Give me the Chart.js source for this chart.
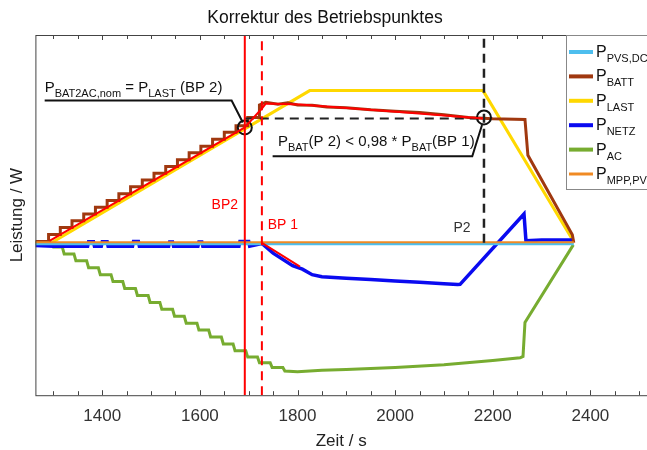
<!DOCTYPE html>
<html>
<head>
<meta charset="utf-8">
<script src="https://cdn.jsdelivr.net/npm/chart.js@4/dist/chart.umd.min.js"></script>
<style>
  body { margin: 0; background: #fff; }
  #wrap { width: 647px; height: 450px; }
</style>
</head>
<body>
<div id="wrap"><canvas id="chart" width="647" height="450"></canvas></div>
<script>
// time axis (s) and power axis (W)
const timeMin = 1263, timeMax = 2516;
const powMin = -2200, powMax = 3000;
const timeTicks = [1400, 1600, 1800, 2000, 2200, 2400];

// series as [time, power] pairs
const pvsDc = [[1263, -15], [2366, -15]];
const mppPv = [[1263, 8], [2366, 8]];
const pLast = [[1263, 0], [1296, 0], [1825, 2197], [2180, 2197], [2365, 25]];
const pBatt = [
  [1263, 20], [1290, 20], [1290, 120], [1314, 120], [1314, 220], [1338, 220], [1338, 320],
  [1362, 320], [1362, 415], [1386, 415], [1386, 515], [1410, 515], [1410, 610], [1434, 610],
  [1434, 710], [1458, 710], [1458, 810], [1482, 810], [1482, 905], [1506, 905], [1506, 1005],
  [1530, 1005], [1530, 1100], [1554, 1100], [1554, 1200], [1578, 1200], [1578, 1300],
  [1602, 1300], [1602, 1395], [1626, 1395], [1626, 1495], [1650, 1495], [1650, 1595],
  [1674, 1595], [1674, 1690], [1698, 1690], [1698, 1810], [1722, 1810], [1722, 1990],
  [1735, 2030], [1760, 2000], [1780, 2020], [1800, 1990], [1830, 1985], [1860, 1960],
  [1900, 1950], [1950, 1920], [2000, 1900], [2050, 1880], [2100, 1850], [2150, 1810],
  [2200, 1790], [2266, 1781], [2272, 1264], [2363, 115], [2366, 0]
];
const pNetz = [
  [1263, -40], [1300, -50], [1370, -50], [1372, 15], [1382, 15], [1384, -50], [1398, -50],
  [1400, 15], [1410, 15], [1412, -50], [1462, -50], [1464, 20], [1474, 20], [1476, -50],
  [1536, -50], [1538, 10], [1544, 10], [1546, -50], [1596, -50], [1598, 10], [1604, 10],
  [1606, -50], [1680, -50], [1682, 20], [1700, 20], [1702, -50], [1727, -10], [1750, -150],
  [1790, -330], [1810, -380], [1830, -460], [1850, -490], [1900, -510], [1950, -530],
  [2000, -550], [2050, -570], [2100, -590], [2128, -603], [2133, -600], [2264, 416],
  [2268, 30], [2300, 40], [2366, 40]
];
const pAc = [
  [1263, 0], [1296, 0], [1300, -60], [1318, -60], [1322, -160], [1342, -160], [1346, -260],
  [1368, -260], [1372, -360], [1392, -360], [1396, -460], [1418, -460], [1422, -560],
  [1442, -560], [1446, -660], [1468, -660], [1472, -760], [1494, -760], [1498, -860],
  [1518, -860], [1522, -960], [1544, -960], [1548, -1060], [1568, -1060], [1572, -1160],
  [1594, -1160], [1598, -1260], [1618, -1260], [1622, -1360], [1644, -1360], [1648, -1460],
  [1668, -1460], [1672, -1560], [1694, -1560], [1698, -1650], [1718, -1650], [1722, -1730],
  [1744, -1730], [1748, -1800], [1770, -1800], [1774, -1850], [1800, -1860], [1850, -1840],
  [1900, -1830], [2000, -1800], [2100, -1760], [2200, -1700], [2256, -1660], [2262, -1640],
  [2266, -1150], [2365, -30]
];
// red fit lines (not in legend)
const batFit = [[1292, 29], [1692, 1666], [1727, 1939], [1735, 2010], [1805, 1996], [1969, 1910], [2180, 1795]];
const netzFit = [[1727, 0], [1805, -345]];

// operating points
const tBP2 = 1692, tBP1 = 1727, tP2 = 2182;
const pBP2 = 1666, pP2 = 1810;

// leader lines of the two notes
const lead1 = [[1282, 2053], [1665, 2053], [1688, 1738]];
const lead2 = [[1749, 1249], [2158, 1249], [2178, 1700]];

const legendItems = [
  ['PVS,DC', '#4DBEEE', 3],
  ['BATT', '#A0380F', 3],
  ['LAST', '#FFD800', 3],
  ['NETZ', '#0A0AF0', 3],
  ['AC', '#77AC30', 3],
  ['MPP,PV', '#F08A24', 2]
];

const xy = arr => arr.map(p => ({x: p[0], y: p[1]}));
const FONT = "'Liberation Sans', Arial, sans-serif";
Chart.defaults.font.family = FONT;

function line(data, color, width, order, dash) {
  return {
    data: xy(data), borderColor: color, borderWidth: width, order: order,
    borderDash: dash || [], pointRadius: 0, fill: false, tension: 0
  };
}

// text with subscripts: parts = [[text, isSub], ...]
function subText(ctx, x, y, parts, size, subSize) {
  let cx = x;
  parts.forEach(p => {
    ctx.font = (p[1] ? subSize : size) + 'px ' + FONT;
    ctx.fillText(p[0], cx, p[1] ? y + 5 : y);
    cx += ctx.measureText(p[0]).width;
  });
}

const decor = {
  id: 'decor',
  afterDatasetsDraw(chart) {
    const ctx = chart.ctx, a = chart.chartArea;
    const xs = chart.scales.x, ys = chart.scales.y;
    ctx.save();
    // box + inward ticks
    ctx.strokeStyle = '#444';
    ctx.lineWidth = 1;
    ctx.strokeRect(a.left + 0.5, a.top + 0.5, a.right - a.left, a.bottom - a.top);
    for (let t = 1300; t <= 2500; t += 50) {
      const px = Math.round(xs.getPixelForValue(t)) + 0.5;
      const len = t % 200 === 0 ? 5 : 4;
      ctx.beginPath();
      ctx.moveTo(px, a.bottom); ctx.lineTo(px, a.bottom - len);
      ctx.moveTo(px, a.top); ctx.lineTo(px, a.top + len);
      ctx.stroke();
    }
    // notes
    ctx.fillStyle = '#111';
    ctx.textBaseline = 'alphabetic';
    ctx.textAlign = 'left';
    subText(ctx, xs.getPixelForValue(1282), ys.getPixelForValue(2183),
      [['P', 0], ['BAT2AC,nom', 1], [' = P', 0], ['LAST', 1], [' (BP 2)', 0]], 15, 11);
    subText(ctx, xs.getPixelForValue(1760), ys.getPixelForValue(1393),
      [['P', 0], ['BAT', 1], ['(P 2) < 0,98 * P', 0], ['BAT', 1], ['(BP 1)', 0]], 15, 11);
    ctx.font = '14px ' + FONT;
    ctx.textBaseline = 'middle';
    ctx.fillStyle = '#FF0000';
    ctx.textAlign = 'center';
    ctx.fillText('BP2', xs.getPixelForValue(1651), ys.getPixelForValue(546));
    ctx.textAlign = 'left';
    ctx.fillText('BP 1', xs.getPixelForValue(1739), ys.getPixelForValue(258));
    ctx.fillStyle = '#333';
    ctx.textAlign = 'center';
    ctx.fillText('P2', xs.getPixelForValue(2137), ys.getPixelForValue(215));
    // legend
    const lx = 566, ly = 35;
    ctx.fillStyle = '#fff';
    ctx.fillRect(lx, ly, 100, 154);
    ctx.strokeStyle = '#888';
    ctx.strokeRect(lx + 0.5, ly + 0.5, 100, 154);
    ctx.textBaseline = 'alphabetic';
    ctx.textAlign = 'left';
    legendItems.forEach((it, i) => {
      const y = ly + 17 + i * 24.4;
      ctx.strokeStyle = it[1];
      ctx.lineWidth = it[2] + 1;
      ctx.beginPath();
      ctx.moveTo(569, y); ctx.lineTo(593, y);
      ctx.stroke();
      ctx.fillStyle = '#111';
      subText(ctx, 596, y + 5, [['P', 0], [it[0], 1]], 16, 11);
    });
    ctx.restore();
  }
};

const noPad = s => { s.paddingLeft = 0; s.paddingRight = 0; };

new Chart(document.getElementById('chart'), {
  type: 'line',
  data: {
    datasets: [
      line(batFit, '#FF0000', 2, 0),
      line(netzFit, '#FF0000', 2, 0),
      line(mppPv, '#F08A24', 2, 1),
      line(pvsDc, '#4DBEEE', 3, 2),
      line(pBatt, '#A0380F', 3, 3),
      line(pNetz, '#0A0AF0', 3.5, 4),
      line(pLast, '#FFD800', 3, 5),
      line(pAc, '#77AC30', 3, 6),
      line([[tBP2, powMin], [tBP2, powMax]], '#FF0000', 2, 0),
      line([[tBP1, powMin], [tBP1, powMax]], '#FF0000', 2, 0, [9, 6]),
      line([[tP2, 0], [tP2, powMax]], '#222', 2.5, 0, [9, 6]),
      line([[tBP2, pP2 - 15], [tP2, pP2 - 15]], '#222', 2, 0, [9, 6]),
      line(lead1, '#111', 2, 0),
      line(lead2, '#111', 2, 0),
      {
        data: xy([[tBP2, pBP2], [tP2, pP2]]), showLine: false, order: 0,
        pointRadius: 7, pointBorderWidth: 2, pointBorderColor: '#111',
        pointBackgroundColor: 'rgba(0,0,0,0)'
      }
    ]
  },
  options: {
    responsive: false,
    animation: false,
    devicePixelRatio: 1,
    layout: { autoPadding: false, padding: { left: 3, right: 0, top: 0, bottom: 0 } },
    plugins: {
      legend: { display: false },
      tooltip: { enabled: false },
      title: {
        display: true, text: 'Korrektur des Betriebspunktes', color: '#111',
        font: { size: 17.5, weight: 'normal' }, padding: { top: 8, bottom: 6 }
      }
    },
    scales: {
      x: {
        type: 'linear', min: timeMin, max: timeMax,
        afterBuildTicks: axis => { axis.ticks = timeTicks.map(v => ({value: v})); },
        afterFit: noPad,
        ticks: { color: '#333', font: { size: 17 }, padding: 11, maxRotation: 0, callback: v => String(v) },
        grid: { display: false, drawTicks: false },
        border: { display: false },
        title: { display: true, text: 'Zeit / s', color: '#222', font: { size: 17 }, padding: { top: -6, bottom: -2 } }
      },
      y: {
        min: powMin, max: powMax,
        ticks: { display: false },
        grid: { display: false, drawTicks: false },
        border: { display: false },
        title: { display: true, text: 'Leistung / W', color: '#222', font: { size: 17 }, padding: { top: 4, bottom: 8 } }
      }
    }
  },
  plugins: [decor]
});
</script>
</body>
</html>
